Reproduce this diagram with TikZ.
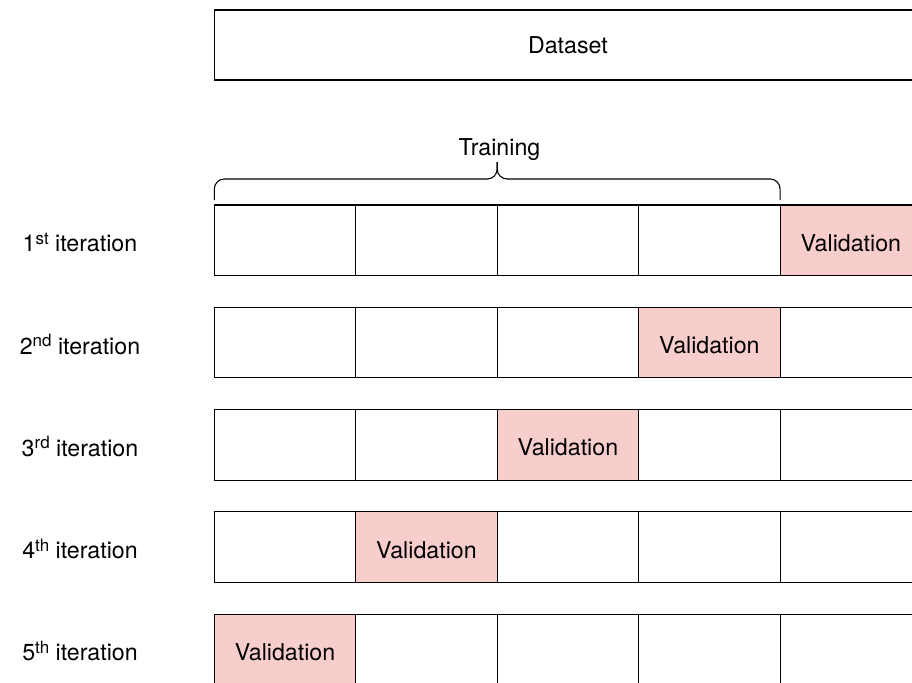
\documentclass[tikz,border=0pt]{standalone}
\usepackage{fontspec}
\setmainfont{TeX Gyre Heros}
\definecolor{valpink}{HTML}{F8CECC}
% raised ordinal suffix
\newcommand{\ordsuf}[1]{\raisebox{7.5pt}{\fontsize{17}{17}\selectfont #1}}
\begin{document}
\begin{tikzpicture}[x=1pt,y=-1pt,
  txt/.style={font=\fontsize{23.2}{27}\selectfont},
  box/.style={txt, draw=black, line width=1.1pt, minimum width=141.45pt,
    minimum height=70.5pt, inner sep=0pt, outer sep=0pt,
    text height=22pt, text depth=0pt},
  valbox/.style={box, fill=valpink},
  iterlabel/.style={txt, inner sep=0pt, text height=23pt, text depth=0pt},
  bracepath/.style={draw=black, line width=1.1pt, rounded corners=10pt}]
\useasboundingbox (0,0) rectangle (912,682);
\clip (0,0) rectangle (912,682);

% whole dataset
\node[box, minimum width=707.25pt, minimum height=70pt, text height=18pt]
  (dataset) at (567.9,45) {Dataset};

% five folds per iteration, the validation fold moving leftwards
\foreach \r/\suf in {1/st,2/nd,3/rd,4/th,5/th} {
  \pgfmathsetmacro\yc{205+102.3*(\r-1)+35.25}
  \pgfmathtruncatemacro\v{6-\r}
  \node[valbox] (c\r-\v) at ({214.3+141.45*(\v-0.5)},\yc) {Validation};
  \foreach \c in {1,...,5} {
    \ifnum\c=\v\relax\else
      \node[box] (c\r-\c) at ({214.3+141.45*(\c-0.5)},\yc) {};
    \fi
  }
  \node[iterlabel] (it\r) at (80,\yc) {\r\ordsuf{\suf} iteration};
}

% training brace over the first four folds
\node[txt, anchor=base, inner sep=0pt] (training) at (499.5,155) {Training};
\coordinate (tip) at ([yshift=43pt]c1-2.north east);
\coordinate (mid) at ([yshift=26pt]c1-2.north east);
\draw[bracepath] ([yshift=5pt]c1-1.north west) |- (mid) -- (tip);
\draw[bracepath] ([yshift=5pt]c1-4.north east) |- (mid) -- (tip);
\end{tikzpicture}
\end{document}
